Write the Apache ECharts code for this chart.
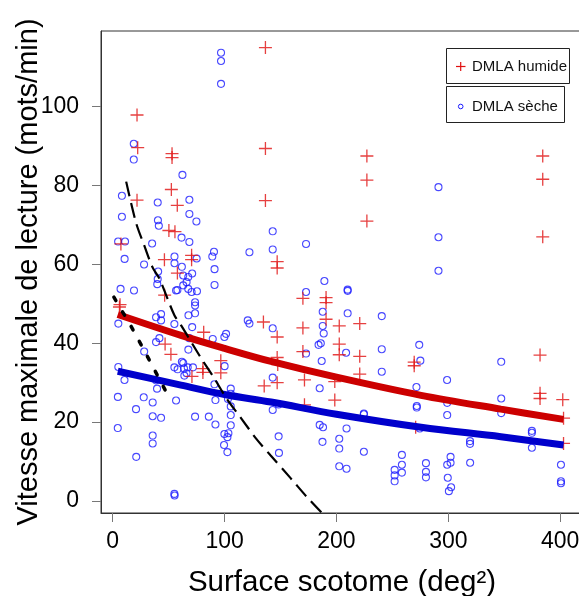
<!DOCTYPE html>
<html>
<head>
<meta charset="utf-8">
<script src="https://cdn.jsdelivr.net/npm/echarts@6/dist/echarts.min.js"></script>
<style>
html,body{margin:0;padding:0;background:#fff;}
#chart{width:579px;height:596px;}
</style>
</head>
<body>
<div id="chart"></div>
<script>
// ---- data ----
const humideX = [21.7,22.3,21.7,7.3,53,53,52.4,57.7,50.2,55.6,46.2,57.8,70.5,70.5,46.4,6.5,6,81.3,46.8,52,70.8,80.6,80.6,96.6,96.6,136.5,136.5,136.5,147,147,134.7,147,147,147.5,135.4,147,170,170,170,171.4,171.4,190.7,190.7,190.7,202.5,202.5,202.5,198.5,198.5,220.8,220.8,220.8,227.2,227.2,227.2,269.5,269.5,270.8,384.4,384.4,384.4,382,382,382,402.3,403,403];
const humideY = [97.9,89.6,76.3,65.2,88.1,87.1,79,75,68.6,68.3,61.2,57.8,62.3,61.2,52.2,49.8,49.2,42.8,39.8,37.2,31.6,33.6,32.6,35.6,32.5,115,89.4,76.2,60.7,59.1,45.4,41.6,36.4,34.6,29.2,30,51.4,43.9,37.9,30.7,24.4,51.6,50.3,46.1,44.4,39.8,37.1,30.3,25.6,45,36.7,32.2,87.5,81.4,71,35.2,34.3,18.7,87.5,81.6,67,37,27.3,26,25.7,21,14.6];

const secheX = [96.8,96.8,96.8,18.8,18.8,8.2,8.2,4.8,11,10.6,40.2,40.4,41.2,35.2,28,40.6,39.8,62.3,68.5,68.5,74.8,61.5,68.5,55.2,55.2,61.8,71,75,63,67.5,66,63,67.5,70.5,57.8,75.3,90.5,89,91,91,122.2,143,143,172.8,189.2,172.8,210,210,291.2,291.2,291.2,19,7,40.2,56.6,
5,38.7,43.2,43.2,55.1,41.7,38.7,67.7,68.4,71,73.6,73.6,73.6,67.6,120.7,122.2,101.3,99.8,89.4,143,187.7,210,240.5,187.7,186,184,188.6,172.8,208.6,240.5,274,186.8,275,240.5,143,185,271.5,298.9,347.3,
28.1,5,10.5,4.6,27.7,35.7,20.8,35.7,43.2,4.5,35.7,35.7,21,55.1,55.3,55.1,58,38.7,39.6,56.6,61.8,63.7,66,63,67,64,71.7,73.6,85.9,91.8,90.9,91.8,100,105.5,105.5,103,105.5,105.5,105.5,103.4,99.8,102.5,99.5,102.5,143,148.3,148.3,148.6,185,188,187.5,202.5,202.5,202.5,209,209,224.5,224.5,224.5,252,252,252,258.5,258.5,258.5,271.8,271.8,274.5,280,280,280,299,299,299,302,302,299.5,300.5,302.5,319.4,319.4,319.5,347.3,347.3,374.7,374.7,374.7,400.7,400.7,400.7];
const secheY = [113.7,111.6,105.8,90.6,86.6,77.4,72.1,65.8,65.8,61.4,75.7,71.2,69.8,65.3,60,58.2,55,82.7,76.4,72.8,70.9,66.8,65.7,62,60.3,59.4,57.7,61.5,57.2,56.8,55.5,54.7,53.8,53,53.5,53.2,63.2,62,58.8,54.8,63.1,68.4,63.8,65.2,55.8,53,53.6,53.3,79.6,66.9,58.4,53.4,53.8,56.3,53.4,
45,46.6,47.4,45.8,44.9,41.3,40.3,47.1,41.3,44.1,50.4,49.6,47.6,38.4,45.8,45,42.4,41.6,41.1,43.8,48,47.6,46.9,44.4,40,39.6,42.5,37.4,37.6,38.5,39.6,35.5,35.6,32.8,31.3,28.6,28.9,30.7,35.3,
37.9,34,30.7,26.4,26.3,25,23.3,21.5,21.1,18.5,16.6,14.6,11.2,1.8,1.4,33.9,33.4,30.6,28.5,25.5,35.3,33.6,32.4,35,33.9,31.8,33.9,21.4,21.4,19.4,29.6,25.6,34.2,28.5,27.2,25.9,24,21.8,19.2,17.2,17,16.2,14.2,12.4,23.1,24.5,16.4,12.2,19.3,18.7,15,15.8,13.3,8.8,8.2,18.4,22.2,22,12.5,7.9,6.5,5,11.7,9.2,7.2,24.1,23.7,18.4,9.6,7.4,6,24.9,21.8,9.2,11.2,9.7,5.9,2.5,3.5,15.2,14.5,9.7,26,22.3,17.8,17.3,13.5,9.2,5,4.5];

const fitX = [4.5, 61, 100, 141.5, 200, 275.6, 347, 403];
const fitHumideY = [47.3, 42.0, 38.7, 35.4, 31.4, 26.8, 23.3, 20.7];
const fitSecheY = [32.9, 29.4, 27.0, 25.1, 22.0, 18.7, 16.3, 14.2];

const dashX = [12, 20.8, 28.3, 35.7, 41.7, 55.1, 61, 77.5, 91, 102, 115, 128, 141, 159, 173, 186.5];
const dashY = [81, 70.6, 64.7, 59.2, 56.4, 47.1, 44.6, 36.9, 31, 25.9, 20.9, 15.9, 11.6, 5.8, 1.2, -2.9];

const dotX = [1, 15.8, 28.9, 48.6];
const dotY = [51.7, 44.6, 37.8, 27.2];

const xTicks = [0, 100, 200, 300, 400];
const yTicks = [0, 20, 40, 60, 80, 100];

const legendLabels = ['DMLA humide', 'DMLA sèche'];
const xTitle = 'Surface scotome (deg²)';
const yTitle = 'Vitesse maximale de lecture (mots/min)';

// ---- build ----
const zip = (a, b) => a.map((v, i) => [v, b[i]]);
const FONT = "'Liberation Sans', Arial, sans-serif";
const crossPath = 'path://M0,5L10,5M5,0L5,10';

const chart = echarts.init(document.getElementById('chart'), null, {renderer: 'canvas'});
chart.setOption({
  animation: false,
  backgroundColor: '#fff',
  grid: {left: 101, top: 31, width: 482, height: 482, containLabel: false, outerBoundsMode: 'none',
         show: true, borderColor: '#333', borderWidth: 1, backgroundColor: 'transparent'},
  xAxis: {
    type: 'value', min: -10.5, max: 420.4,
    name: xTitle, nameLocation: 'middle', nameGap: 55, nameMoveOverlap: false,
    nameTextStyle: {fontFamily: FONT, fontSize: 29.5, color: '#000'},
    axisLine: {show: true, onZero: false, lineStyle: {color: '#333', width: 1}},
    axisTick: {show: true, length: 9, customValues: xTicks, lineStyle: {color: '#777'}},
    axisLabel: {customValues: xTicks, margin: 17, fontFamily: FONT, fontSize: 23, color: '#000'},
    splitLine: {show: false}
  },
  yAxis: {
    type: 'value', min: -3.04, max: 119.2,
    name: yTitle, nameLocation: 'middle', nameGap: 58, nameMoveOverlap: false,
    nameTextStyle: {fontFamily: FONT, fontSize: 29, color: '#000'},
    axisLine: {show: true, onZero: false, lineStyle: {color: '#333', width: 1}},
    axisTick: {show: true, length: 9, customValues: yTicks, lineStyle: {color: '#777'}},
    axisLabel: {customValues: yTicks, margin: 22, fontFamily: FONT, fontSize: 23, color: '#000'},
    splitLine: {show: false}
  },
  series: [
    {name: legendLabels[1], type: 'scatter', data: zip(secheX, secheY), symbol: 'circle', symbolSize: 7,
     itemStyle: {color: 'rgba(0,0,0,0)', borderColor: '#1a1aff', borderWidth: 1.1}, z: 2},
    {name: legendLabels[0], type: 'scatter', data: zip(humideX, humideY), symbol: crossPath, symbolSize: 13,
     itemStyle: {color: 'rgba(0,0,0,0)', borderColor: '#e01010', borderWidth: 1.3}, z: 3},
    {type: 'line', data: zip(fitX, fitHumideY), smooth: 0.35, showSymbol: false, symbol: 'none',
     lineStyle: {color: '#cc0000', width: 7}, z: 4},
    {type: 'line', data: zip(fitX, fitSecheY), smooth: 0.35, showSymbol: false, symbol: 'none',
     lineStyle: {color: '#0000cc', width: 7}, z: 4},
    {type: 'line', data: zip(dashX, dashY), smooth: 0.3, showSymbol: false, symbol: 'none', clip: true,
     lineStyle: {color: '#000', width: 2.2, type: [15, 7]}, z: 5},
    {type: 'line', data: zip(dotX, dotY), showSymbol: false, symbol: 'none',
     lineStyle: {color: '#000', width: 3.5, type: [4, 13], cap: 'round'}, z: 5}
  ],
  graphic: [
    {type: 'rect', shape: {x: 446.5, y: 48.5, width: 123, height: 35}, style: {fill: '#fff', stroke: '#222', lineWidth: 1}, z: 10},
    {type: 'line', shape: {x1: 456, y1: 66.5, x2: 465.5, y2: 66.5}, style: {stroke: '#e01010', lineWidth: 1.2}, z: 11},
    {type: 'line', shape: {x1: 460.7, y1: 62, x2: 460.7, y2: 71}, style: {stroke: '#e01010', lineWidth: 1.2}, z: 11},
    {type: 'text', x: 472, y: 66.5, style: {text: legendLabels[0], fontFamily: FONT, fontSize: 15, fill: '#111', verticalAlign: 'middle'}, z: 11},
    {type: 'rect', shape: {x: 446.5, y: 86.5, width: 118, height: 36}, style: {fill: '#fff', stroke: '#222', lineWidth: 1}, z: 10},
    {type: 'circle', shape: {cx: 460.7, cy: 106.5, r: 2.3}, style: {fill: 'rgba(0,0,0,0)', stroke: '#1a1aff', lineWidth: 1}, z: 11},
    {type: 'text', x: 472, y: 106.5, style: {text: legendLabels[1], fontFamily: FONT, fontSize: 15, fill: '#111', verticalAlign: 'middle'}, z: 11}
  ]
});
</script>
</body>
</html>
